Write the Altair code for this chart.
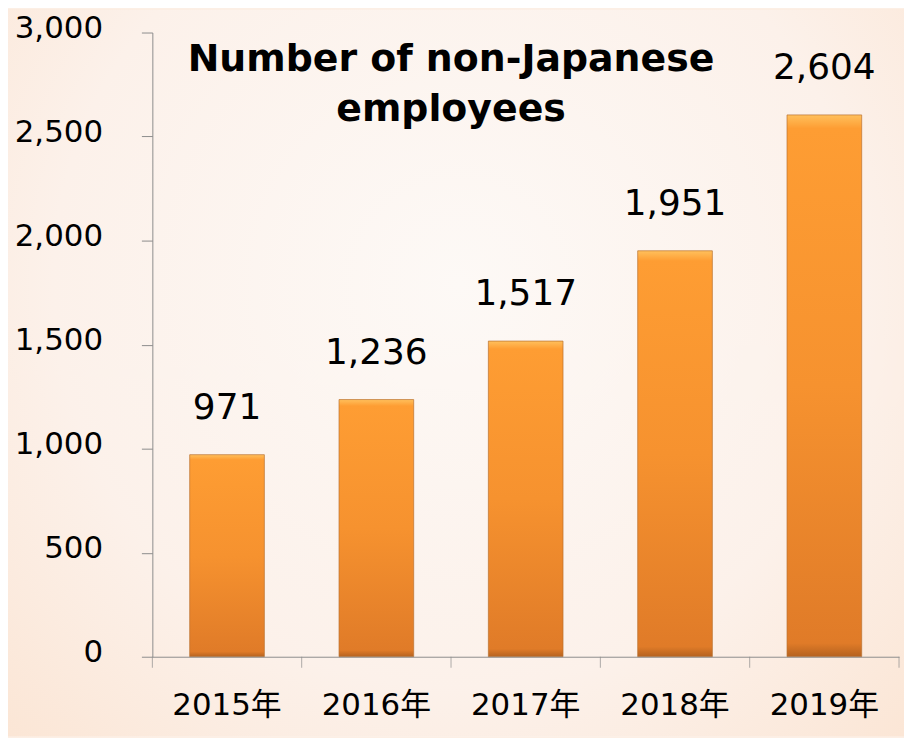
import altair as alt
import pandas as pd

years = ["2015年", "2016年", "2017年", "2018年", "2019年"]
counts = [971, 1236, 1517, 1951, 2604]
title_lines = ["Number of non-Japanese", "employees"]
y_ticks = [0, 500, 1000, 1500, 2000, 2500, 3000]

df = pd.DataFrame({"year": years, "count": counts})

W, H = 750, 627
FONT = "DejaVu Sans, Noto Sans CJK JP"
AXIS_GRAY = "#8c8c8c"

bar_grad = {
    "gradient": "linear", "x1": 0, "y1": 0, "x2": 0, "y2": 1,
    "stops": [
        {"offset": 0.0, "color": "#ffc05c"},
        {"offset": 0.025, "color": "#fe9d33"},
        {"offset": 0.5, "color": "#f6922f"},
        {"offset": 0.975, "color": "#e07b28"},
        {"offset": 1.0, "color": "#b5621f"},
    ],
}

bg_grad = {
    "gradient": "radial", "x1": 0.5, "y1": 0.4, "r1": 0.0,
    "x2": 0.5, "y2": 0.4, "r2": 0.75,
    "stops": [
        {"offset": 0.0, "color": "#fdf9f6"},
        {"offset": 0.6, "color": "#fcf1ea"},
        {"offset": 1.0, "color": "#fbe4d2"},
    ],
}

x_scale = alt.Scale(paddingInner=0.5, paddingOuter=0.25)

x_enc = alt.X(
    "year:N", sort=years, title=None, scale=x_scale,
    axis=alt.Axis(
        labelAngle=0, labelFont=FONT, labelFontSize=31, labelColor="#000000",
        labelPadding=34, domainColor=AXIS_GRAY, ticks=False, zindex=1,
    ),
)
y_enc = alt.Y(
    "count:Q", title=None,
    scale=alt.Scale(domain=[0, 3000], nice=False),
    axis=alt.Axis(
        values=y_ticks, format=",.0f", grid=False, labelFont=FONT,
        labelFontSize=31, labelColor="#000000", labelPadding=39,
        labelOffset=-4, domainColor=AXIS_GRAY, tickColor=AXIS_GRAY,
        tickSize=11, zindex=1,
    ),
)

background = alt.Chart(pd.DataFrame({"k": [0]})).mark_rect(
    color=bg_grad, clip=False
).encode(
    x=alt.value(-145), x2=alt.value(W + 10),
    y=alt.value(-23), y2=alt.value(H + 80),
)

base = alt.Chart(df)

bars = base.mark_bar(
    color=bar_grad, stroke="#b8702e", strokeWidth=1, strokeOpacity=0.7
).encode(x=x_enc, y=y_enc)

# category boundary ticks on the x axis (left edge of each band, plus right end)
band_ticks = base.mark_tick(
    orient="vertical", size=11, thickness=1, color=AXIS_GRAY, xOffset=-37.5,
    yOffset=5.5,
).encode(
    x=alt.X("year:N", sort=years, bandPosition=0),
    y=alt.datum(0),
)
last_tick = base.transform_filter(
    alt.datum.year == years[-1]
).mark_tick(
    orient="vertical", size=11, thickness=1, color=AXIS_GRAY, xOffset=37.5,
    yOffset=5.5,
).encode(
    x=alt.X("year:N", sort=years, bandPosition=1),
    y=alt.datum(0),
)

labels = base.mark_text(
    font=FONT, fontSize=36, color="#000000", baseline="alphabetic",
    align="center", dy=-36,
).encode(x=x_enc, y=y_enc, text=alt.Text("count:Q", format=","))

title = alt.Chart(pd.DataFrame({"k": [0]})).mark_text(
    text=title_lines, font=FONT, fontSize=38, fontWeight="bold",
    color="#000000", align="center", baseline="alphabetic", lineHeight=50,
).encode(x=alt.value(300), y=alt.value(39))

chart = alt.layer(background, bars, band_ticks, last_tick, labels, title).properties(
    width=W, height=H,
    autosize=alt.AutoSizeParams(type="none"),
    padding={"left": 145, "top": 23, "right": 5, "bottom": 80},
    background="#fcefe5",
).configure_view(stroke=None)

chart.save("out.html", embed_options={"renderer": "svg", "actions": False})
